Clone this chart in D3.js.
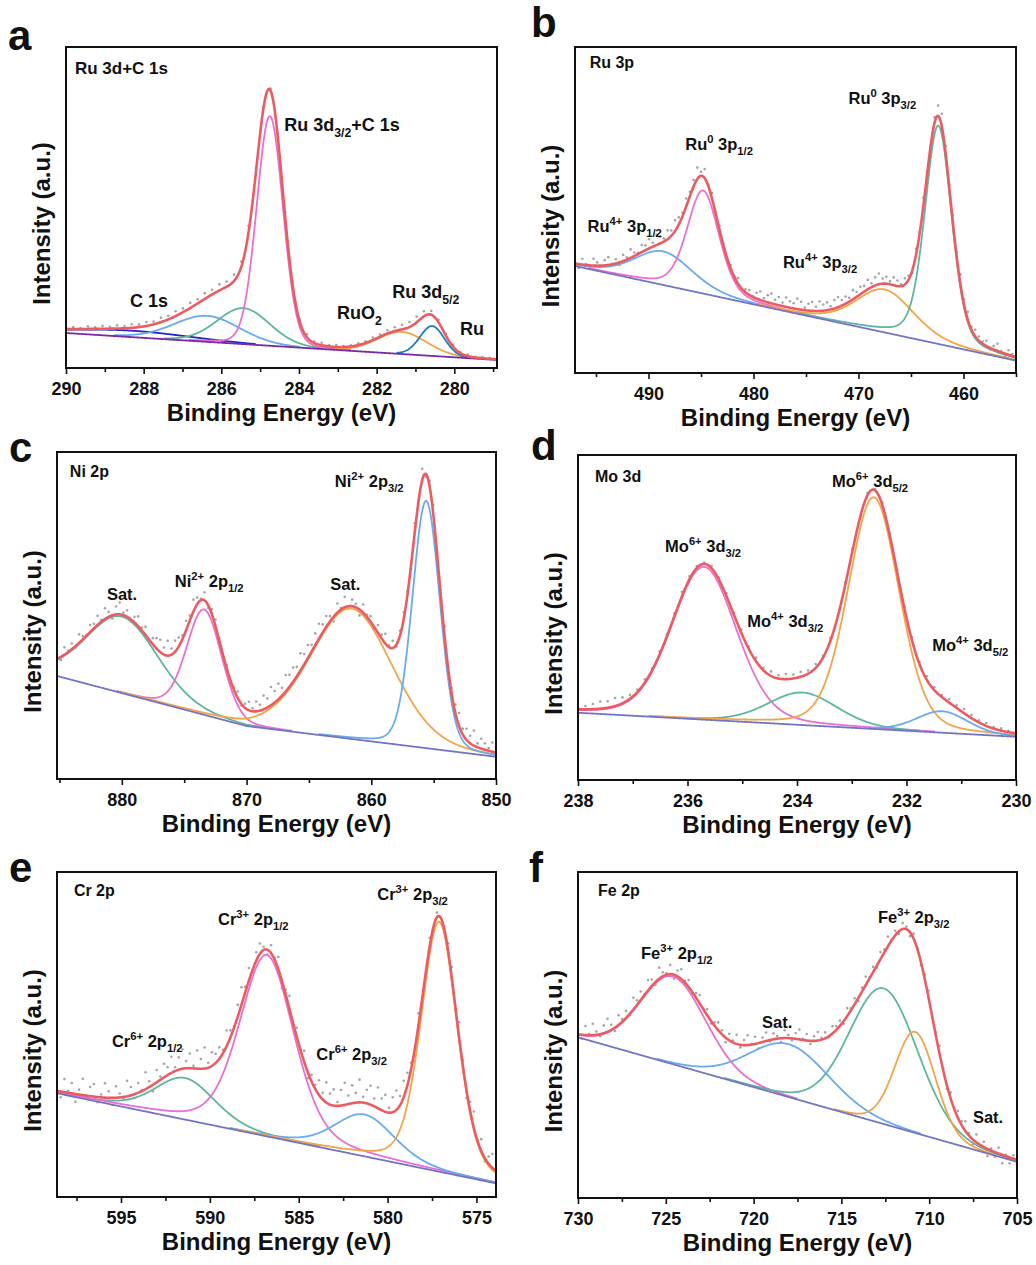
<!DOCTYPE html>
<html>
<head>
<meta charset="utf-8">
<script src="https://cdn.jsdelivr.net/npm/d3@7"></script>
<style>
    body { margin: 0; background: #fff; }
    text { font-family: "Liberation Sans", Arial, sans-serif; font-weight: bold; fill: #111; }
</style>
</head>
<body>
<script>
// fit colours
var RED = '#ec5b60', PINK = '#e96fd2', BLUE = '#68abee', TEAL = '#5fb6a0',
    ORANGE = '#f2a448', BASE = '#7474c6';

// a: Ru 3d + C 1s   (intensity in % of frame height)
var aRange = [290, 278.9];
var aTicks = [290, 288, 286, 284, 282, 280];
var aMinor = [289, 287, 285, 283, 281, 279];
var aBaseE = [290, 278.9];
var aBaseY = [10.9, 2.5];
var aCenter = [288.3, 286.37, 285.43, 284.75, 281.35, 280.57];
var aHeight = [2.0, 8.1, 11.2, 71.5, 6.9, 9.3];
var aFwhm = [3.6, 2.0, 1.6, 0.8, 1.5, 0.75];
var aNoise = [0.4, 0.6, 0.3, 0.8, 0.5, 0.9, 0.6, 1.0, 0.7, 1.1, 0.8,
    1.2, 0.9, 1.4, 1.1, 1.5, 1.2, 1.6, 1.3, 1.8, 1.5, 1.9, 1.6,
    2.0, 1.6, 1.8, 1.2, 0.9, 0.6, 1.0, 1.4,
    0.8, 0.6, 1.0, 0.5, 0.8, 0.4, 0.6, 0.3,
    0.4, 0.6, 0.5, 0.8, 0.7, 1.0, 1.2, 1.4, 1.6, 1.8,
    1.6, 1.2, 0.8, 0.5, 0.6, 0.3, 0.5, 0.2, 0.4, 0.3, 0.2];
var aLabels = [['Ru 3d+C 1s', 289.77, 91.6, 17], ['Ru 3d_{3/2}+C 1s', 284.38, 73.8, 18],
    ['C 1s', 288.35, 19.0, 18], ['RuO_{2}', 283.02, 15.3, 18],
    ['Ru 3d_{5/2}', 281.60, 21.8, 18], ['Ru', 279.85, 10.3, 18]];

// b: Ru 3p
var bRange = [497, 455];
var bTicks = [490, 480, 470, 460];
var bMinor = [495, 485, 475, 465, 455];
var bBaseE = [497, 455];
var bBaseY = [32.8, 3.8];
var bCenter = [488.6, 484.8, 467.5, 462.4];
var bHeight = [10.3, 31.6, 13.2, 67.0];
var bFwhm = [6.5, 3.6, 6.5, 3.0];
var bNoise = [0.5, -1.2, 1.8, 0.3, -0.6, 2.1, 1.0, -0.4, 1.6, 2.4, 0.2, 1.3, -0.8, 1.9, 0.7, 2.6, 1.1, 0.4, 2.2, 1.5,
    2.8, 1.2, 3.1, 2.0, 0.9, 2.7, 1.6, 3.3, 2.2, 1.1, 2.5, 1.4,
    2.0, 3.5, 1.2, 2.8, 0.6, 1.8, -0.5, 1.2, 0.4,
    -0.8, 1.0, 0.3, 1.7, -0.4, 0.9, 1.5, 0.2,
    1.8, 2.6, 0.9, 2.2, 3.0, 1.4, 2.5, 1.1, 2.9, 2.0, 1.6, 3.2, 2.4, 0.8, 2.1, 2.7, 1.3, 2.9, 1.9, 2.4,
    1.0, 2.6, 3.1, 1.7, 2.2, 1.2, 2.8, 1.5, 2.3,
    1.8, 2.9, 1.2, 2.5, 3.3, 1.6, 2.1, 0.9, 2.4, 1.7, 0.6, 1.9,
    1.2, -0.8, 2.0, 0.5, 2.6, 1.1, -0.5, 1.8, 3.2, 4.0,
    2.1, 0.8, 2.6, 1.4, 3.0, 1.8, 2.4, 0.9, 2.0, 1.3, 0.7,
    1.6, -0.4, 1.1, 2.2, 0.3, -0.9, 1.4, 0.6, -0.3];
var bLabels = [['Ru 3p', 495.6, 93.6, 16], ['Ru^{0} 3p_{3/2}', 470.95, 82.5, 16.5],
    ['Ru^{0} 3p_{1/2}', 486.5, 68.4, 16.5], ['Ru^{4+} 3p_{1/2}', 495.8, 43.3, 16.5],
    ['Ru^{4+} 3p_{3/2}', 477.2, 32.2, 16.5]];

// c: Ni 2p
var cRange = [885.2, 850];
var cTicks = [880, 870, 860, 850];
var cMinor = [885, 875, 865, 855];
var cBaseE = [885.2, 870, 850];
var cBaseY = [31.5, 16.2, 6.8];
var cCenter = [880, 873.4, 861.6, 855.6];
var cHeight = [23.4, 32.2, 39.9, 75.6];
var cFwhm = [6.8, 3.3, 7.7, 2.6];
var cNoise = [1.2, -0.9, 2.3, 0.4, 1.8, -0.5, 2.6, 1.0, 0.2, 2.1, 1.4,
    2.8, 0.6, 3.3, 1.5, -1.0, 2.4, 3.6, 0.8, 2.0, -0.6, 1.7, 3.0, 0.9, 2.5, -0.3, 1.9, 3.2,
    3.8, 2.2, 4.5, 1.9, 3.4, 2.7, 1.2, 2.9,
    1.5, 3.6, 2.0, 0.4, 2.5, -0.8, 1.6, 2.2, 0.6, -0.4,
    1.0, -1.2, 0.8, 2.0, -0.5, 1.3, 2.6, 0.9, 3.0, 1.8,
    4.2, 2.8, 5.6, 3.5, 4.8, 2.4, 5.0, 3.7, 4.4, 2.9, 5.3, 3.2, 4.0, 2.1, 3.6, 4.6, 2.5, 3.3,
    1.6, -1.5, 2.8, 0.4, 3.2, -0.8, 2.0, 1.1, -1.8, 2.5, 0.6, 1.7, -0.4,
    2.4, 1.2, 3.0, 0.5, 2.2, -0.6, 1.4, 2.0,
    1.0, -1.4, 2.5, 0.2, 3.4, -0.8, 1.6, 2.8, -0.2, 1.2, 2.2, 0.4, 1.8,
    2.6, 4.0, 1.8, 3.4, 2.3, 4.6, 1.2, 3.0, 2.0, 0.8, 2.8, 1.5];
var cLabels = [['Ni 2p', 884.17, 92.4, 16], ['Ni^{2+} 2p_{3/2}', 862.92, 89.3, 16.5],
    ['Sat.', 881.2, 54.7, 16.5], ['Ni^{2+} 2p_{1/2}', 875.75, 58.7, 16.5], ['Sat.', 863.3, 57.8, 16.5]];

// d: Mo 3d
var dRange = [238, 230];
var dTicks = [238, 236, 234, 232, 230];
var dMinor = [237, 235, 233, 231];
var dBaseE = [238, 230];
var dBaseY = [20.7, 13.3];
var dCenter = [235.7, 233.9, 232.6, 231.35];
var dHeight = [47.0, 10.0, 71.3, 6.6];
var dFwhm = [1.4, 1.5, 1.1, 1.1];
var dNoise = [0.6, 1.0, 1.6, 2.2, 2.0, 2.5, 1.8, 1.2, 0.8, 1.0, 0.6, 0.9, 0.5, 0.8, 1.4,
    1.0, 0.6, 0.4, 0.8, 0.5, 0.9, 0.6, 1.0, 0.7, 1.2, 0.8, 1.4, 1.0, 1.6, 1.2,
    1.5, 1.0, 1.2, 0.6, 0.9, 0.4, 0.8, 0.5, 0.3, 0.6, 0.4, 0.7, 0.5, 0.8, 0.6,
    1.0, 0.7, 1.2, 0.9, 0.6, 1.1, 0.8, 1.3, 1.0, 0.7, 0.9, 0.5, 0.7, 0.4, 0.3];
var dLabels = [['Mo 3d', 237.69, 91.7, 16], ['Mo^{6+} 3d_{5/2}', 233.36, 90.2, 16.5],
    ['Mo^{6+} 3d_{3/2}', 236.41, 70.2, 16.5], ['Mo^{4+} 3d_{3/2}', 234.91, 47.1, 16.5],
    ['Mo^{4+} 3d_{5/2}', 231.53, 39.7, 16.5]];

// e: Cr 2p
var eRange = [598.6, 573.9];
var eTicks = [595, 590, 585, 580, 575];
var eMinor = [597.5, 592.5, 587.5, 582.5, 577.5];
var eBaseE = [598.6, 573.9];
var eBaseY = [31.9, 4.2];
var eCenter = [591.4, 586.8, 581.3, 577.1];
var eHeight = [12.8, 55.8, 12.9, 76.9];
var eFwhm = [4.0, 3.6, 4.0, 2.4];
var eNoise = [2.5, -1.8, 4.0, 0.6, 3.2, -2.4, 1.5, 5.0, -0.8, 2.8, 3.9, -1.6, 0.9, 4.4, 2.0,
    -2.2, 3.5, 1.2, -0.4, 4.8, 2.6, -1.2, 3.0, 0.3, 5.2, 1.8, -2.0, 3.8, 1.0, 4.2,
    2.4, 5.0, 1.2, 3.8, 6.0, 2.2, 4.5, 0.8, 5.6, 3.0, 6.5, 1.5, 4.2, 2.8,
    3.5, 1.0, 4.8, 2.2, 0.5, 3.6, 5.4, 1.8, 4.0, -0.6, 2.6, 3.2, 1.0,
    -1.5, 2.4, 0.6, 3.8, -2.2, 1.5, 4.0, -0.8, 2.8, 0.2, 3.4, -1.8, 2.0, 1.2,
    4.5, 2.0, 6.2, 3.4, 5.0, 1.2, 4.8, 6.8, 2.6, 5.5, 3.0, 7.0, 1.8, 4.2, 5.8, 2.4, 6.4, 3.6, 5.2, 1.5,
    4.6, 6.0, 2.8, 5.0, 3.8,
    2.0, -2.5, 3.5, 0.5, -1.8, 2.8, -0.6, 1.4, 4.0, -1.2, 2.2,
    3.2, -0.8, 4.6, 1.5, -2.4, 2.8, 5.0, 0.2, 3.6, -1.0, 2.2, 4.2, 0.6];
var eLabels = [['Cr 2p', 597.65, 92.6, 16], ['Cr^{3+} 2p_{3/2}', 580.58, 91.4, 16.5],
    ['Cr^{3+} 2p_{1/2}', 589.54, 83.7, 16.5], ['Cr^{6+} 2p_{1/2}', 595.51, 46.2, 16.5],
    ['Cr^{6+} 2p_{3/2}', 584.01, 42.2, 16.5]];

// f: Fe 2p
var fRange = [730, 705];
var fTicks = [730, 725, 720, 715, 710, 705];
var fMinor = [727.5, 722.5, 717.5, 712.5, 707.5];
var fBaseE = [730, 705];
var fBaseY = [49.3, 11.1];
var fCenter = [724.6, 718.0, 712.6, 710.8];
var fHeight = [26.9, 16.2, 41.6, 31.0];
var fFwhm = [4.4, 5.4, 4.6, 2.7];
var fNoise = [1.5, -1.2, 2.8, 0.4, 3.5, 1.0, -0.6, 2.4, 4.0, 1.6, -1.0, 3.0, 0.8, 2.2, -0.4, 3.6, 1.4, 2.6, 0.2, 3.2,
    2.0, -0.8, 3.4, 1.2, 0.4, 2.8, -1.2, 1.8, 3.0, 0.6, 2.2, -0.5, 1.4, 2.6, 0.2, 1.8, -0.9, 1.0, 2.4,
    1.2, -1.4, 2.0, 0.6, 2.8, -0.8, 1.6, 3.0, 0.2, 2.2, -1.6, 1.4, 2.6, -0.4, 1.8, 0.8, -1.2, 2.4, 1.0, -0.6,
    1.8, 3.0, 0.4, 2.0, -1.0, 1.4, 2.6, 0.6, 1.8, -0.4, 2.2, 1.2,
    1.6, -0.8, 2.4, 0.6, 1.8, -1.0, 1.2, 2.6, 0.4, 1.6, -0.6, 2.2, 1.0, 3.0, 0.2, 1.4, -0.8, 1.8,
    0.8, -1.2, 1.6, 0.2, -0.8, 1.4, 2.0, -0.4, 1.0, 2.4, 0.6, -1.0, 1.8, 0.4, 2.2, 1.2,
    3.0, 0.8, -1.6, 2.4, -0.6, 1.6, -2.2, 0.6, -1.4, 1.8, -2.6, 0.4, -1.8, 1.0, -1.2];
var fLabels = [['Fe 2p', 728.86, 92.6, 16], ['Fe^{3+} 2p_{3/2}', 712.92, 84.4, 16.5],
    ['Fe^{3+} 2p_{1/2}', 726.41, 73.3, 16.5], ['Sat.', 719.52, 52.1, 16.5], ['Sat.', 707.51, 23.0, 16.5]];

var panels = [
    { id: 'a', box: [66, 47, 497, 368], letter: [8, 50], mix: 0.1, range: aRange, ticks: aTicks, minor: aMinor,
      baseE: aBaseE, baseY: aBaseY, center: aCenter, height: aHeight, fwhm: aFwhm, noise: aNoise, labels: aLabels,
      colors: ['#2626c8', BLUE, TEAL, PINK, ORANGE, '#1d7cc2'], baseColor: '#7a2aa6' },
    { id: 'b', box: [575, 47, 1016, 373], letter: [531, 37], mix: 0.3, range: bRange, ticks: bTicks, minor: bMinor,
      baseE: bBaseE, baseY: bBaseY, center: bCenter, height: bHeight, fwhm: bFwhm, noise: bNoise, labels: bLabels,
      colors: [BLUE, PINK, ORANGE, TEAL], baseColor: BASE },
    { id: 'c', box: [57, 452, 496, 779], letter: [9, 462], mix: 0.15, range: cRange, ticks: cTicks, minor: cMinor,
      baseE: cBaseE, baseY: cBaseY, center: cCenter, height: cHeight, fwhm: cFwhm, noise: cNoise, labels: cLabels,
      colors: [TEAL, PINK, ORANGE, BLUE], baseColor: BASE },
    { id: 'd', box: [578, 455, 1016, 780], letter: [531, 460], mix: 0.2, range: dRange, ticks: dTicks, minor: dMinor,
      baseE: dBaseE, baseY: dBaseY, center: dCenter, height: dHeight, fwhm: dFwhm, noise: dNoise, labels: dLabels,
      colors: [PINK, TEAL, ORANGE, BLUE], baseColor: BASE },
    { id: 'e', box: [57, 872, 496, 1197], letter: [9, 882], mix: 0.3, range: eRange, ticks: eTicks, minor: eMinor,
      baseE: eBaseE, baseY: eBaseY, center: eCenter, height: eHeight, fwhm: eFwhm, noise: eNoise, labels: eLabels,
      colors: [TEAL, PINK, BLUE, ORANGE], baseColor: BASE },
    { id: 'f', box: [578, 872, 1017, 1198], letter: [529, 882], mix: 0.1, range: fRange, ticks: fTicks, minor: fMinor,
      baseE: fBaseE, baseY: fBaseY, center: fCenter, height: fHeight, fwhm: fFwhm, noise: fNoise, labels: fLabels,
      colors: [PINK, BLUE, TEAL, ORANGE], baseColor: BASE }
];

var svg = d3.select('body').append('svg')
    .attr('width', 1036)
    .attr('height', 1265)
    .style('display', 'block');

/*
 * Writes a label with ^{sup} and _{sub} parts as tspans.
 */
function addLabel(g, str, px, py, size) {
    var t = g.append('text').attr('x', px).attr('y', py).style('font-size', size + 'px');
    var parts = str.match(/\^\{[^}]*\}|_\{[^}]*\}|[^^_]+/g);
    var shift = 0;
    parts.forEach(function (s) {
        var target = 0, txt = s, small = false;
        if (s[0] === '^') { target = -0.42 * size; txt = s.slice(2, -1); small = true; }
        else if (s[0] === '_') { target = 0.32 * size; txt = s.slice(2, -1); small = true; }
        var ts = t.append('tspan').attr('dy', target - shift).text(txt);
        if (small) ts.style('font-size', (size * 0.68) + 'px');
        shift = target;
    });
}

function drawPanel(p) {
    var g = svg.append('g');
    var L = p.box[0], T = p.box[1], R = p.box[2], B = p.box[3];
    var x = d3.scaleLinear().domain(p.range).range([L, R]);
    var y = d3.scaleLinear().domain([0, 100]).range([B, T]);
    var base = d3.scaleLinear().domain(p.baseE).range(p.baseY);

    function peak(i, e) {
        var d = (e - p.center[i]) / p.fwhm[i];
        return p.height[i] * ((1 - p.mix) * Math.exp(-4 * Math.LN2 * d * d) + p.mix / (1 + 4 * d * d));
    }
    function total(e) {
        var s = base(e);
        for (var i = 0; i < p.center.length; i++) s += peak(i, e);
        return s;
    }

    g.append('clipPath').attr('id', 'clip-' + p.id)
        .append('rect').attr('x', L).attr('y', T).attr('width', R - L).attr('height', B - T);
    var plot = g.append('g').attr('clip-path', 'url(#clip-' + p.id + ')');

    var grid = d3.range(0, 701).map(function (i) {
        return p.range[0] + (p.range[1] - p.range[0]) * i / 700;
    });

    // measured points
    var n = p.noise.length;
    plot.selectAll('.pt')
        .data(p.noise)
        .enter().append('circle')
        .attr('class', 'pt')
        .attr('cx', function (d, i) { return x(p.range[0] + (p.range[1] - p.range[0]) * i / (n - 1)); })
        .attr('cy', function (d, i) { return y(total(p.range[0] + (p.range[1] - p.range[0]) * i / (n - 1)) + d); })
        .attr('r', 1.3)
        .attr('fill', '#a4a4a4');

    // components
    p.center.forEach(function (c, i) {
        var line = d3.line()
            .defined(function (e) { return peak(i, e) > 0.25; })
            .x(function (e) { return x(e); })
            .y(function (e) { return y(base(e) + peak(i, e)); });
        plot.append('path')
            .attr('d', line(grid))
            .attr('fill', 'none')
            .attr('stroke', p.colors[i])
            .attr('stroke-width', 1.8);
    });

    // background
    plot.append('path')
        .attr('d', d3.line().x(function (e) { return x(e); }).y(function (e) { return y(base(e)); })(grid))
        .attr('fill', 'none')
        .attr('stroke', p.baseColor)
        .attr('stroke-width', 1.8);

    // envelope
    plot.append('path')
        .attr('d', d3.line().x(function (e) { return x(e); }).y(function (e) { return y(total(e)); })(grid))
        .attr('fill', 'none')
        .attr('stroke', RED)
        .attr('stroke-width', 2.6);

    // frame
    g.append('rect')
        .attr('x', L).attr('y', T).attr('width', R - L).attr('height', B - T)
        .attr('fill', 'none').attr('stroke', '#111').attr('stroke-width', 2);

    var major = g.append('g').attr('transform', 'translate(0,' + B + ')')
        .call(d3.axisBottom(x).tickValues(p.ticks).tickSize(6).tickPadding(8).tickFormat(d3.format('d')));
    var minor = g.append('g').attr('transform', 'translate(0,' + B + ')')
        .call(d3.axisBottom(x).tickValues(p.minor).tickSize(4).tickFormat(''));
    [major, minor].forEach(function (ax) {
        ax.select('.domain').remove();
        ax.selectAll('line').attr('stroke', '#111').attr('stroke-width', 1.6);
    });
    major.selectAll('text')
        .style('font-size', '18px')
        .style('font-family', '"Liberation Sans", Arial, sans-serif')
        .style('font-weight', 'bold')
        .attr('fill', '#111');

    g.append('text')
        .attr('x', (L + R) / 2).attr('y', B + 53)
        .attr('text-anchor', 'middle')
        .style('font-size', '24px')
        .text('Binding Energy (eV)');

    g.append('text')
        .attr('transform', 'translate(' + (L - 16) + ',' + ((T + B) / 2 + 16) + ') rotate(-90)')
        .attr('text-anchor', 'middle')
        .style('font-size', '24px')
        .text('Intensity (a.u.)');

    g.append('text')
        .attr('x', p.letter[0]).attr('y', p.letter[1])
        .style('font-size', '42px')
        .text(p.id);

    p.labels.forEach(function (lb) {
        addLabel(g, lb[0], x(lb[1]), y(lb[2]), lb[3]);
    });
}

panels.forEach(drawPanel);
</script>
</body>
</html>
